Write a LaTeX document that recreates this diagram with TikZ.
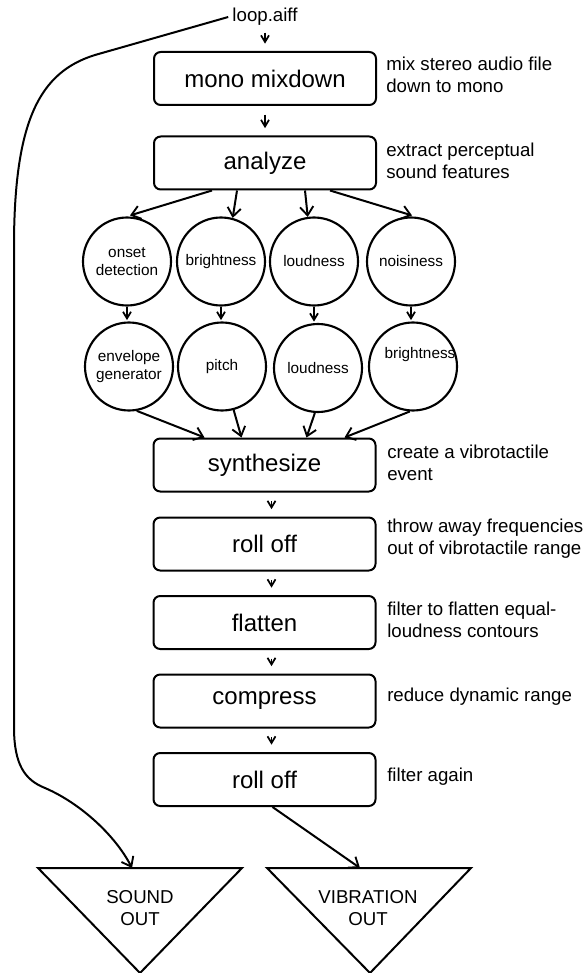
\documentclass[tikz,border=0pt]{standalone}
\usepackage{fontspec}
\setmainfont{Liberation Sans}
\usetikzlibrary{arrows.meta,calc}
\begin{document}
\begin{tikzpicture}[x=0.75pt,y=-0.75pt,
  box/.style={draw,line width=1.5pt,rounded corners=5pt,minimum width=166.5pt,minimum height=39.75pt,font=\fontsize{18}{21}\selectfont,inner sep=0pt},
  feat/.style={draw,circle,line width=1.6pt,minimum size=66pt,inner sep=0pt,align=center,font=\fontsize{11.5}{13.5}\selectfont},
  note/.style={anchor=west,align=left,font=\fontsize{14}{16.5}\selectfont,inner sep=0pt},
  outtext/.style={align=center,font=\fontsize{14}{16.5}\selectfont,inner sep=0pt},
  bigarrow/.style={-{Straight Barb[length=6.5pt,width=10pt,line width=1.4pt]},line width=1.5pt},
  smallarrow/.style={-{Straight Barb[length=5pt,width=6pt,line width=1.3pt]},line width=1.4pt,shorten <=6.5pt,shorten >=5.5pt},
  tri/.style={draw,line width=1.5pt,line join=miter}]
\useasboundingbox (0,0) rectangle (587,973);

% source
\node[font=\fontsize{14}{16.5}\selectfont,inner sep=3pt] (loop) at (265,17) {loop.aiff};

% process boxes
\node[box] (mono) at (265,78.5) {mono mixdown};
\node[box] (ana) at (265,163) {analyze};
\node[box] (syn) at (264.5,465) {synthesize};
\node[box] (roll1) at (264.5,544) {roll off};
\node[box] (flat) at (264.5,622.5) {flatten};
\node[box] (comp) at (264.5,701) {compress};
\node[box] (roll2) at (264.5,779.5) {roll off};

% annotations
\node[note] (n1) at (386,75) {mix stereo audio file\\down to mono};
\node[note] (n2) at (386,160.5) {extract perceptual\\sound features};
\node[note] (n3) at (387,462.5) {create a vibrotactile\\event};
\node[note] (n4) at (387,539) {throw away frequencies\\out of vibrotactile range};
\node[note] (n5) at (387,620) {filter to flatten equal-\\loudness contours};
\node[note] (n6) at (387,697) {reduce dynamic range};
\node[note] (n7) at (387,777) {filter again};

% feature circles
\node[feat] (c1) at (127,261.5) {onset\\detection};
\node[feat] (c2) at (221,261.5) {brightness};
\node[feat] (c3) at (314,261.5) {loudness};
\node[feat] (c4) at (411,261.5) {noisiness};
\node[feat] (c5) at (129,366.5) {envelope\\generator};
\node[feat] (c6) at (222,366.5) {pitch};
\node[feat] (c7) at (318,368) {loudness};
\node[feat] (c8) at (413,366.5) {};
\node[font=\fontsize{11.5}{13.5}\selectfont,inner sep=0pt] (c8t) at (420,355) {brightness};

% outputs
\coordinate (sndtop) at (132,868);
\coordinate (vibtop) at (360,868);
\draw[tri] (38,868) -- (242,868) -- (140,973) -- cycle;
\draw[tri] (267,868) -- (471,868) -- (370,973) -- cycle;
\node[outtext] (snd) at (140,908) {SOUND\\OUT};
\node[outtext] (vib) at (368,908) {VIBRATION\\OUT};

% chain arrows
\draw[smallarrow,shorten <=2pt] (loop.south) -- (mono.north);
\draw[smallarrow] (mono.south) -- (ana.north);
\draw[smallarrow] ($(syn.south)+(7,0)$) -- ($(roll1.north)+(7,0)$);
\draw[smallarrow] ($(roll1.south)+(7,0)$) -- ($(flat.north)+(7,0)$);
\draw[smallarrow] ($(flat.south)+(7,0)$) -- ($(comp.north)+(7,0)$);
\draw[smallarrow] ($(comp.south)+(7,0)$) -- ($(roll2.north)+(7,0)$);

% analyze to features
\draw[bigarrow] ($(ana.south)+(-53,0)$) -- ($(c1.north)+(3,-1)$);
\draw[bigarrow] ($(ana.south)+(-28,0)$) -- (c2.75);
\draw[bigarrow] ($(ana.south)+(40,0)$) -- (c3.98);
\draw[bigarrow] ($(ana.south)+(65,0)$) -- ($(c4.north)+(1,-1)$);

% feature to feature
\draw[smallarrow,shorten <=0pt,shorten >=1pt] (c1.south) -- (c1.south |- c5.north);
\draw[smallarrow,shorten <=0pt,shorten >=1pt] (c2.south) -- (c2.south |- c6.north);
\draw[smallarrow,shorten <=0pt,shorten >=1pt] (c3.south) -- (c3.south |- c7.north);
\draw[smallarrow,shorten <=0pt,shorten >=1pt] (c4.south) -- (c4.south |- c8.north);

% features to synthesize
\draw[bigarrow] (c5.-80) -- ($(syn.north)+(-60,0)$);
\draw[bigarrow] (c6.-75) -- ($(syn.north)+(-23,0)$);
\draw[bigarrow] (c7.-94) -- ($(syn.north)+(42,0)$);
\draw[bigarrow] (c8.-94) -- ($(syn.north)+(80,0)$);

% outputs
\draw[bigarrow] ($(roll2.south)+(8,0)$) -- (vibtop);
\draw[bigarrow] (loop.west) -- (95,55) .. controls (40,72) and (15,120) .. (14,240)
  -- (14,727) .. controls (14,765) and (25,780) .. (45,788)
  .. controls (80,803) and (115,835) .. (sndtop);
\end{tikzpicture}
\end{document}
